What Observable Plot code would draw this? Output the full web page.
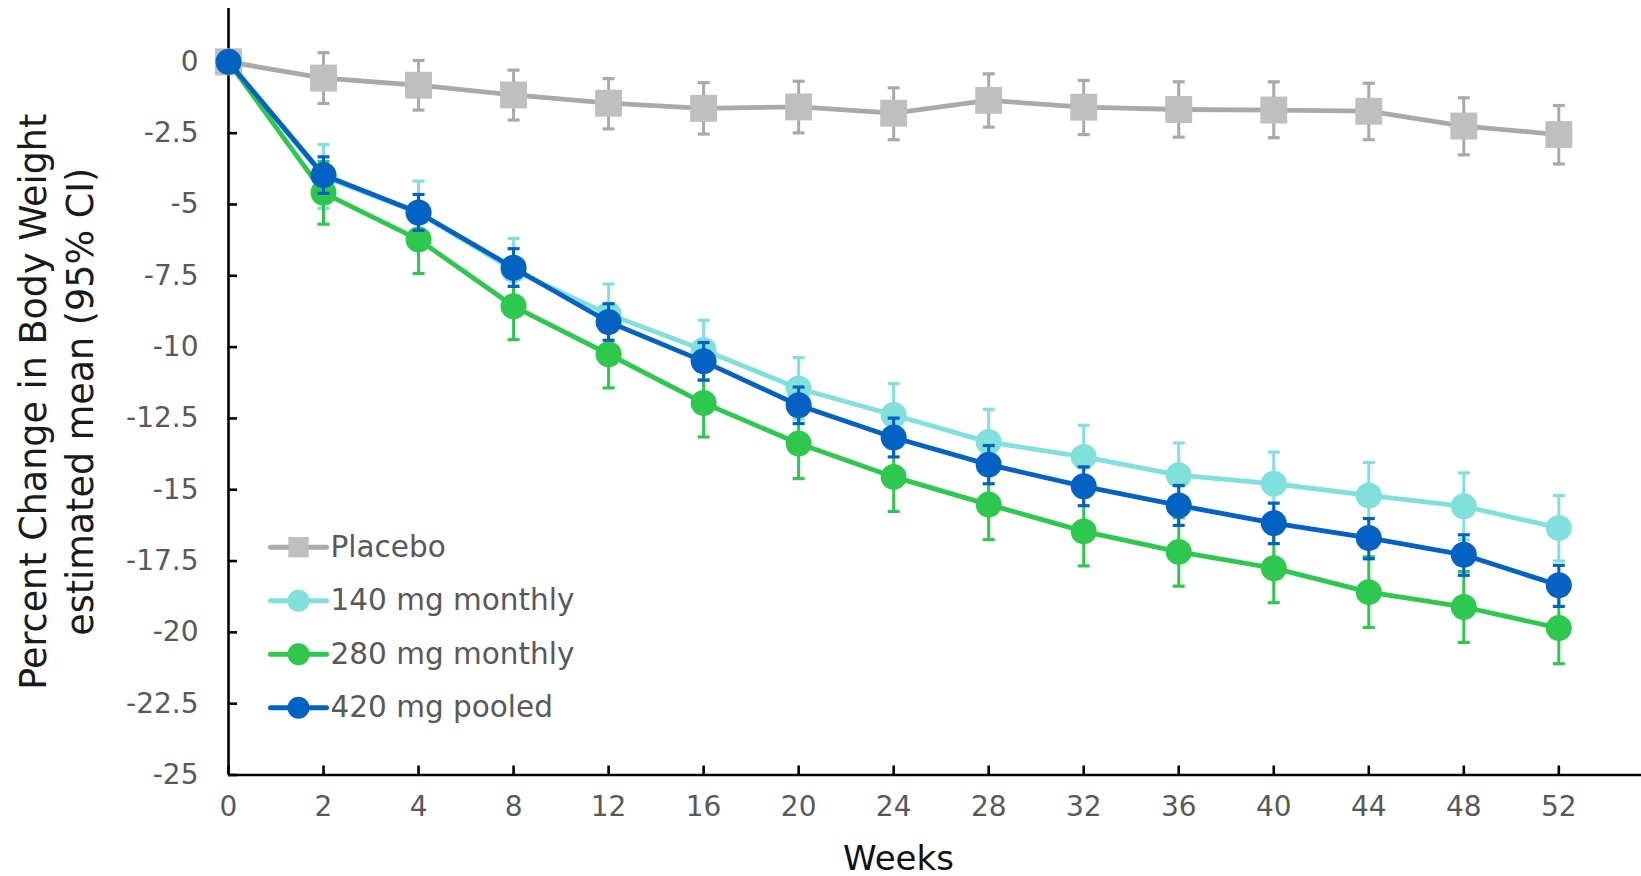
<!DOCTYPE html>
<html>
<head>
<meta charset="utf-8">
<script src="https://cdn.jsdelivr.net/npm/d3@7"></script>
<script src="https://cdn.jsdelivr.net/npm/@observablehq/plot@0.6"></script>
<style>
  html, body { margin: 0; padding: 0; background: #fff; }
  #chart svg { display: block; }
</style>
</head>
<body>
<div id="chart"></div>
<script>
// ---- Data ----
const weeks = [0, 2, 4, 8, 12, 16, 20, 24, 28, 32, 36, 40, 44, 48, 52];
const seriesNames = ["Placebo", "140 mg monthly", "280 mg monthly", "420 mg pooled"];
const yTickValues = [0, -2.5, -5, -7.5, -10, -12.5, -15, -17.5, -20, -22.5, -25];

const placeboMean  = [0, -0.57, -0.82, -1.16, -1.45, -1.63, -1.58, -1.80, -1.35, -1.59, -1.67, -1.69, -1.73, -2.25, -2.55];
const placeboUpper = [0,  0.32,  0.05, -0.29, -0.59, -0.73, -0.68, -0.91, -0.42, -0.65, -0.70, -0.70, -0.75, -1.26, -1.53];
const placeboLower = [0, -1.46, -1.69, -2.04, -2.35, -2.53, -2.49, -2.73, -2.29, -2.55, -2.64, -2.66, -2.73, -3.26, -3.58];

const mg140Mean  = [0, -4.02, -5.30, -7.30, -8.85, -10.10, -11.45, -12.38, -13.33, -13.85, -14.49, -14.79, -15.20, -15.58, -16.34];
const mg140Upper = [0, -2.90, -4.18, -6.19, -7.79,  -9.06, -10.37, -11.28, -12.18, -12.74, -13.36, -13.68, -14.05, -14.41, -15.20];
const mg140Lower = [0, -5.14, -6.42, -8.41, -9.91, -11.14, -12.53, -13.48, -14.48, -14.96, -15.62, -15.90, -16.35, -16.75, -17.50];

const mg280Mean  = [0, -4.59, -6.23, -8.57, -10.25, -11.96, -13.38, -14.55, -15.52, -16.46, -17.18, -17.75, -18.59, -19.11, -19.85];
const mg280Upper = [0, -3.49, -5.04, -7.40,  -9.07, -10.77, -12.15, -13.34, -14.29, -15.25, -15.98, -16.54, -17.35, -17.87, -18.60];
const mg280Lower = [0, -5.69, -7.42, -9.74, -11.43, -13.15, -14.61, -15.76, -16.75, -17.67, -18.38, -18.96, -19.83, -20.35, -21.10];

const mg420Mean  = [0, -3.97, -5.28, -7.22, -9.12, -10.50, -12.04, -13.17, -14.12, -14.88, -15.55, -16.17, -16.69, -17.28, -18.35];
const mg420Upper = [0, -3.33, -4.65, -6.55, -8.48,  -9.84, -11.40, -12.49, -13.45, -14.20, -14.85, -15.47, -16.01, -16.58, -17.65];
const mg420Lower = [0, -4.61, -5.91, -7.87, -9.76, -11.16, -12.68, -13.85, -14.79, -15.56, -16.25, -16.89, -17.42, -18.00, -19.09];

// ---- Styling ----
const styles = [
  {line: "#a9a9a9", marker: "#bfbfbf", err: "#a9a9a9", symbol: "square", r: 15.2, legendR: 11.5},
  {line: "#80e0dc", marker: "#80e0dc", err: "#80e0dc", symbol: "circle", r: 13, legendR: 11},
  {line: "#2dc84d", marker: "#2dc84d", err: "#2dc84d", symbol: "circle", r: 13, legendR: 11},
  {line: "#0462c2", marker: "#0462c2", err: "#0462c2", symbol: "circle", r: 13, legendR: 11}
];
const means = [placeboMean, mg140Mean, mg280Mean, mg420Mean];
const uppers = [placeboUpper, mg140Upper, mg280Upper, mg420Upper];
const lowers = [placeboLower, mg140Lower, mg280Lower, mg420Lower];

const rows = [];
seriesNames.forEach((name, s) => {
  weeks.forEach((w, i) => {
    rows.push({series: name, s, i, week: w, mean: means[s][i], hi: uppers[s][i], lo: lowers[s][i]});
  });
});

// horizontal line symbol (for error-bar caps and legend line samples)
const hLine = {
  draw(ctx, size) {
    const w = Math.sqrt(size / Math.PI);
    ctx.moveTo(-w, 0);
    ctx.lineTo(w, 0);
  }
};

const font = "DejaVu Sans";
const marks = [];

// axes (drawn first so markers sit on top)
marks.push(Plot.ruleX([0], {stroke: "#000", strokeWidth: 2.6}));
marks.push(Plot.ruleY([-25], {stroke: "#000", strokeWidth: 2.6}));
marks.push(Plot.axisY({ticks: yTickValues, tickFormat: d => String(d), tickSize: 0, tickPadding: 30,
  fontSize: 28, fill: "#595959", label: null}));
marks.push(Plot.axisY({ticks: yTickValues, tickSize: 9, dx: 9, fill: "none", stroke: "#000", strokeWidth: 2.6, label: null}));
marks.push(Plot.axisX({ticks: d3.range(weeks.length), tickFormat: i => String(weeks[i]), tickSize: 0, tickPadding: 21,
  fontSize: 28, fill: "#595959", label: null}));
marks.push(Plot.axisX({ticks: d3.range(weeks.length), tickSize: 9, dy: -9, fill: "none", stroke: "#000", strokeWidth: 2.6, label: null}));

// series
seriesNames.forEach((name, s) => {
  const st = styles[s];
  const data = rows.filter(d => d.s === s);
  const errData = data.filter(d => d.hi !== d.lo);
  marks.push(Plot.ruleX(errData, {x: "i", y1: "lo", y2: "hi", stroke: st.err, strokeWidth: 3}));
  marks.push(Plot.dot(errData, {x: "i", y: "hi", symbol: hLine, r: 6, fill: "none", stroke: st.err, strokeWidth: 3.2}));
  marks.push(Plot.dot(errData, {x: "i", y: "lo", symbol: hLine, r: 6, fill: "none", stroke: st.err, strokeWidth: 3.2}));
  marks.push(Plot.line(data, {x: "i", y: "mean", stroke: st.line, strokeWidth: 4.8, strokeLinejoin: "round"}));
  marks.push(Plot.dot(data, {x: "i", y: "mean", symbol: st.symbol, r: st.r, fill: st.marker, stroke: "none"}));
});

// axis titles
marks.push(Plot.text(["Percent Change in Body Weight\nestimated mean (95% CI)"], {
  frameAnchor: "left", textAnchor: "middle", lineAnchor: "middle", rotate: -90, dx: -174.5, dy: 10,
  fontSize: 36.5, lineHeight: 1.29, fill: "#1a1a1a"
}));
marks.push(Plot.text(["Weeks"], {
  frameAnchor: "bottom", textAnchor: "middle", dx: -36.5, dy: 84, fontSize: 34, fill: "#111", lineAnchor: "middle"
}));

// legend (inside plot, top-left anchored)
seriesNames.forEach((name, s) => {
  const st = styles[s];
  const dy = 538.7 + s * 53.5;
  marks.push(Plot.dot([name], {frameAnchor: "top-left", dx: 70, dy, symbol: hLine, r: 28, fill: "none", stroke: st.line, strokeWidth: 5, strokeLinecap: "round"}));
  marks.push(Plot.dot([name], {frameAnchor: "top-left", dx: 70, dy, symbol: st.symbol, r: st.legendR, fill: st.marker, stroke: "none"}));
  marks.push(Plot.text([name], {frameAnchor: "top-left", dx: 102, dy, text: d => d, textAnchor: "start", lineAnchor: "middle", fontSize: 29.5, fill: "#595959"}));
});

const chart = Plot.plot({
  width: 1641,
  height: 876,
  marginLeft: 228,
  marginRight: 0,
  marginTop: 8,
  marginBottom: 101.5,
  x: {type: "linear", domain: [0, 14.87]},
  y: {type: "linear", domain: [-25, 1.87]},
  style: {fontFamily: font, background: "#fff", overflow: "visible"},
  marks
});
document.getElementById("chart").appendChild(chart);
</script>
</body>
</html>
